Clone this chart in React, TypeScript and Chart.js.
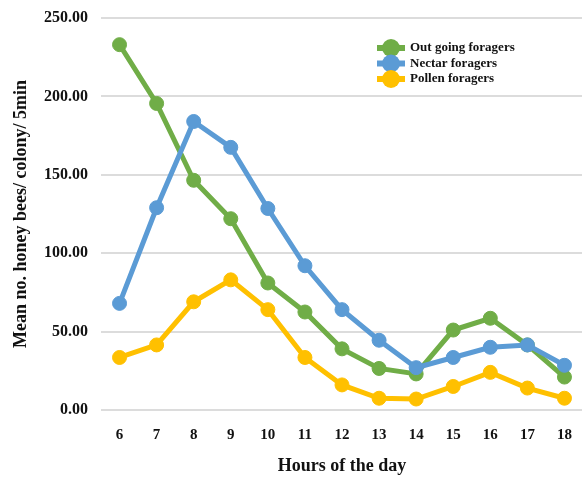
import React, { useEffect, useRef } from "react";
import { Chart, registerables } from "chart.js";

Chart.register(...registerables);

const hours = ["6", "7", "8", "9", "10", "11", "12", "13", "14", "15", "16", "17", "18"];
const outGoing = [233, 195.5, 146.5, 122, 81, 62.5, 39, 26.5, 23, 51, 58.5, 41.5, 21];
const nectar = [68, 129, 184, 167.5, 128.5, 92, 64, 44.5, 27, 33.5, 40, 41.5, 28.5];
const pollen = [33.5, 41.5, 69, 83, 64, 33.5, 16, 7.5, 7, 15, 24, 14, 7.5];
const seriesNames = ["Out going foragers", "Nectar foragers", "Pollen foragers"];
const seriesColors = ["#70AD47", "#5B9BD5", "#FFC000"];
const yTitle = "Mean no. honey bees/ colony/ 5min";
const xTitle = "Hours of the day";

const FONT = "'Liberation Serif', 'Times New Roman', serif";

const legendPlugin = {
  id: "customLegend",
  afterDraw(chart: any) {
    const ctx = chart.ctx;
    const x0 = 377;
    const y0 = 48;
    const rowH = 15.5;
    ctx.save();
    chart.data.datasets.forEach((ds: any, i: number) => {
      const y = y0 + i * rowH;
      ctx.strokeStyle = ds.borderColor;
      ctx.lineWidth = 6;
      ctx.beginPath();
      ctx.moveTo(x0, y);
      ctx.lineTo(x0 + 28, y);
      ctx.stroke();
      ctx.fillStyle = ds.borderColor;
      ctx.beginPath();
      ctx.arc(x0 + 14, y, 9, 0, Math.PI * 2);
      ctx.fill();
    });
    chart.data.datasets.forEach((ds: any, i: number) => {
      const y = y0 + i * rowH;
      ctx.fillStyle = "#111";
      ctx.font = `bold 13px ${FONT}`;
      ctx.textBaseline = "middle";
      ctx.textAlign = "left";
      ctx.fillText(ds.label, x0 + 33, y);
    });
    ctx.restore();
  },
};

export default function App() {
  const ref = useRef<HTMLCanvasElement>(null);
  useEffect(() => {
    const canvas = ref.current!;
    const series = [outGoing, nectar, pollen];
    const chart = new Chart(canvas, {
      type: "line",
      data: {
        labels: hours,
        datasets: series.map((d, i) => ({
          label: seriesNames[i],
          data: d,
          borderColor: seriesColors[i],
          backgroundColor: seriesColors[i],
          borderWidth: 5,
          pointRadius: 7,
          pointBorderWidth: 1,
          pointBackgroundColor: seriesColors[i],
          pointBorderColor: seriesColors[i],
          tension: 0,
          order: 3 - i,
        })),
      },
      options: {
        responsive: false,
        animation: false,
        layout: { padding: { top: 18, right: 0, left: 0, bottom: 0 } },
        plugins: {
          legend: { display: false },
          tooltip: { enabled: false },
        },
        scales: {
          x: {
            offset: true,
            grid: { display: false, drawTicks: false },
            border: { display: false },
            ticks: {
              color: "#111",
              font: { family: FONT, size: 15, weight: "bold" },
              padding: 16,
              maxRotation: 0,
            },
            title: {
              display: true,
              text: xTitle,
              color: "#111",
              font: { family: FONT, size: 18, weight: "bold" },
              padding: { top: 0, bottom: 0 },
            },
            afterFit(scale: any) {
              scale.height = 67;
            },
          },
          y: {
            min: 0,
            max: 250,
            grid: { color: "#dcdcdc", lineWidth: 2, drawTicks: false },
            border: { display: false },
            ticks: {
              stepSize: 50,
              color: "#111",
              font: { family: FONT, size: 16, weight: "bold" },
              padding: 13,
              callback: (v: any) => Number(v).toFixed(2),
            },
            title: {
              display: true,
              text: yTitle,
              color: "#111",
              font: { family: FONT, size: 18, weight: "bold" },
              padding: { top: 11, bottom: 0 },
            },
            afterFit(scale: any) {
              scale.width = 101;
              scale.paddingTop = 0;
              scale.paddingBottom = 0;
            },
          },
        },
      },
      plugins: [legendPlugin],
    });
    return () => chart.destroy();
  }, []);
  return (
    <div
      style={{
        position: "absolute",
        left: 0,
        top: 0,
        width: 582,
        height: 477,
        overflow: "hidden",
        background: "#fff",
      }}
    >
      <canvas ref={ref} width={591} height={477} style={{ display: "block", width: 591, height: 477 }} />
    </div>
  );
}
